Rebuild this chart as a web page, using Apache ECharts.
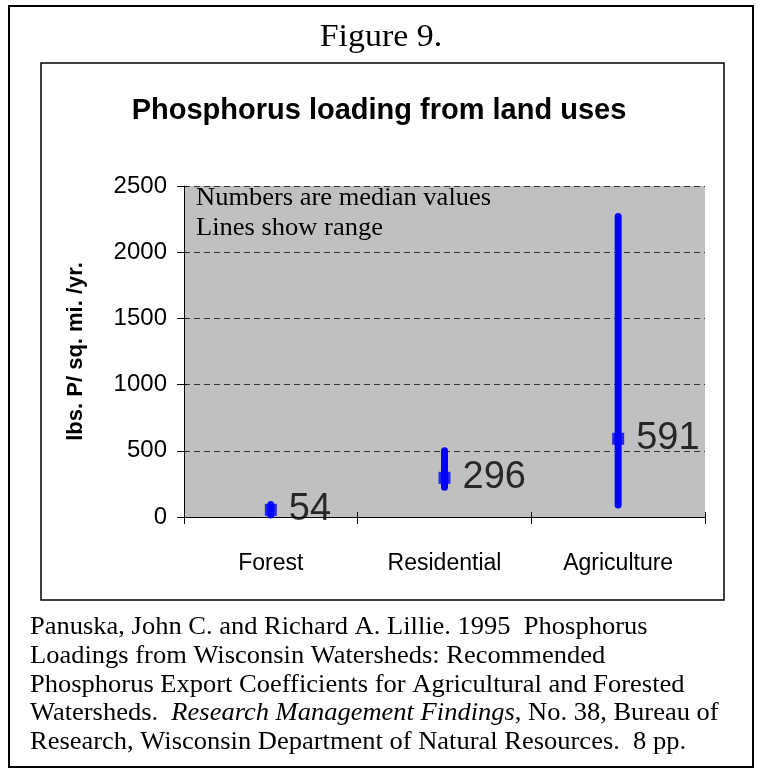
<!DOCTYPE html>
<html>
<head>
<meta charset="utf-8">
<script src="https://cdn.jsdelivr.net/npm/echarts@6/dist/echarts.min.js"></script>
<style>
  html, body { margin: 0; padding: 0; background: #fff; }
  #chart { width: 758px; height: 772px; }
</style>
</head>
<body>
<div id="chart"></div>
<script>
// data
const categories = ["Forest", "Residential", "Agriculture"];
const medians = [54, 296, 591];
const rangeLow = [15, 225, 90];
const rangeHigh = [95, 500, 2270];
const yTicks = [0, 500, 1000, 1500, 2000, 2500];

const serif = "'Liberation Serif', 'Times New Roman', serif";
const sans = "'Liberation Sans', Arial, sans-serif";

const chart = echarts.init(document.getElementById("chart"));

const option = {
  backgroundColor: "#fff",
  animation: false,
  graphic: [
    // outer frame
    {
      type: "rect",
      shape: { x: 9, y: 6, width: 744, height: 761 },
      style: { fill: "none", stroke: "#000", lineWidth: 2 },
      silent: true,
    },
    // chart frame
    {
      type: "rect",
      shape: { x: 41, y: 63, width: 683, height: 537 },
      style: { fill: "none", stroke: "#000", lineWidth: 1.5 },
      silent: true,
    },
    {
      type: "text",
      x: 381,
      y: 38,
      scaleX: 1.06,
      style: {
        text: "Figure 9.",
        font: "32px " + serif,
        fill: "#000",
        align: "center",
        verticalAlign: "middle",
      },
    },
    {
      type: "text",
      x: 196,
      y: 183,
      z: 10,
      scaleX: 1.06,
      style: {
        text: "Numbers are median values\nLines show range",
        font: "25px " + serif,
        lineHeight: 30,
        fill: "#000",
      },
    },
    {
      type: "text",
      x: 30,
      y: 613,
      scaleX: 1.06,
      style: {
        text:
          "Panuska, John C. and Richard A. Lillie. 1995  Phosphorus\n" +
          "Loadings from Wisconsin Watersheds: Recommended\n" +
          "Phosphorus Export Coefficients for Agricultural and Forested\n" +
          "Watersheds.  {i|Research Management Findings}, No. 38, Bureau of\n" +
          "Research, Wisconsin Department of Natural Resources.  8 pp.",
        font: "25px " + serif,
        lineHeight: 28.8,
        fill: "#000",
        rich: {
          i: { fontStyle: "italic", fontFamily: serif, fontSize: 25, lineHeight: 28.8 },
        },
      },
    },
  ],
  title: {
    text: "Phosphorus loading from land uses",
    left: "center",
    top: 91,
    textStyle: {
      fontFamily: sans,
      fontWeight: "bold",
      fontSize: 29,
      color: "#000",
    },
  },
  grid: {
    left: 184,
    right: 53,
    top: 186,
    bottom: 255,
    show: true,
    backgroundColor: "#C0C0C0",
    borderWidth: 0,
  },
  xAxis: [
    {
      type: "category",
      data: categories,
      axisLine: { lineStyle: { color: "#000", width: 1 } },
      axisTick: { show: true, length: 7, lineStyle: { color: "#000" } },
      axisLabel: {
        fontFamily: sans,
        fontSize: 23,
        color: "#000",
        margin: 35,
      },
    },
    {
      // inner half of the crossing ticks
      type: "category",
      data: categories,
      position: "bottom",
      axisLine: { show: false },
      axisTick: { show: true, inside: true, length: 5, lineStyle: { color: "#000" } },
      axisLabel: { show: false },
    },
  ],
  yAxis: [
    {
      type: "value",
      min: yTicks[0],
      max: yTicks[yTicks.length - 1],
      interval: 500,
      name: "lbs. P/ sq. mi. /yr.",
      nameLocation: "middle",
      nameGap: 97,
      nameTextStyle: {
        fontFamily: sans,
        fontWeight: "bold",
        fontSize: 22,
        color: "#000",
      },
      axisLine: { show: true, lineStyle: { color: "#000", width: 1 } },
      axisTick: { show: true, length: 7, lineStyle: { color: "#000" } },
      axisLabel: {
        fontFamily: sans,
        fontSize: 24,
        color: "#000",
        margin: 17,
        formatter: (v) => String(v),
      },
      splitLine: {
        show: true,
        lineStyle: { color: "#333", type: [6, 4], width: 1 },
      },
    },
    {
      type: "value",
      min: yTicks[0],
      max: yTicks[yTicks.length - 1],
      interval: 500,
      position: "left",
      axisLine: { show: false },
      axisTick: { show: true, inside: true, length: 3, lineStyle: { color: "#000" } },
      axisLabel: { show: false },
      splitLine: { show: false },
    },
  ],
  series: [
    {
      name: "range",
      type: "custom",
      z: 3,
      data: categories.map((c, i) => [i, rangeLow[i], rangeHigh[i]]),
      renderItem: (params, api) => {
        const lo = api.coord([api.value(0), api.value(1)]);
        const hi = api.coord([api.value(0), api.value(2)]);
        return {
          type: "line",
          shape: { x1: lo[0], y1: lo[1], x2: hi[0], y2: hi[1] },
          style: { stroke: "#0000FF", lineWidth: 7, lineCap: "round" },
        };
      },
    },
    {
      name: "median",
      type: "scatter",
      z: 4,
      symbol: "rect",
      symbolSize: [12, 12],
      itemStyle: { color: "#0000FF" },
      data: categories.map((c, i) => [i, medians[i]]),
      label: {
        show: true,
        position: "right",
        distance: 12,
        formatter: (p) => String(p.value[1]),
        fontFamily: sans,
        fontSize: 38,
        color: "#000",
        textBorderWidth: 0,
      },
    },
  ],
};

chart.setOption(option);
</script>
</body>
</html>
